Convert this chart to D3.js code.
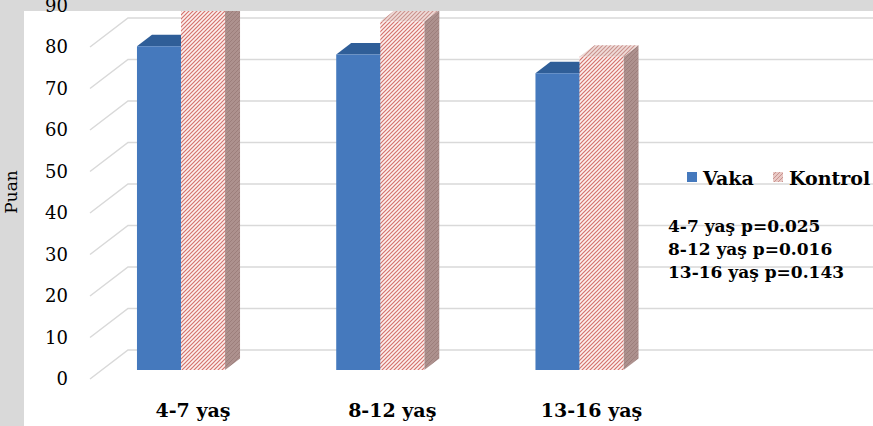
<!DOCTYPE html>
<html>
<head>
<meta charset="utf-8">
<script src="https://cdn.jsdelivr.net/npm/d3@7"></script>
<style>
  body { margin: 0; background: #fff; }
  svg { display: block; }
</style>
</head>
<body>
<div id="chart"></div>
<script>
var categories = ['4-7 yaş', '8-12 yaş', '13-16 yaş'];
var seriesNames = ['Vaka', 'Kontrol'];
var vaka = [78, 76, 71.5];
var kontrol = [89, 84, 75.5];
var yTicks = [0, 10, 20, 30, 40, 50, 60, 70, 80, 90];
var notes = ['4-7 yaş p=0.025', '8-12 yaş p=0.016', '13-16 yaş p=0.143'];

var width = 873, height = 426;
var plotLeft = 24, plotTop = 11;
// oblique 3d offsets
var back = { dx: 38, dy: -29 };
var barPlane = { dx: 0, dy: -9 };
var depth = { dx: 15, dy: -11.5 };

var svg = d3.select('#chart').append('svg')
  .attr('width', width)
  .attr('height', height);

var defs = svg.append('defs');

function hatch(id, bg, line, w) {
  var p = defs.append('pattern')
    .attr('id', id)
    .attr('patternUnits', 'userSpaceOnUse')
    .attr('width', 4).attr('height', 4);
  p.append('rect').attr('width', 4).attr('height', 4).attr('fill', bg);
  p.append('path')
    .attr('d', 'M-1,1 L1,-1 M0,4 L4,0 M3,5 L5,3')
    .attr('stroke', line).attr('stroke-width', w);
}
hatch('kFront', '#fdf1ef', '#d4736d', 1.2);
hatch('kTop', '#f0dcd9', '#c9918c', 1.1);
hatch('kSide', '#ad918e', '#9c7e7b', 1);
hatch('kLegend', '#e9c9c5', '#c99490', 1);

defs.append('clipPath').attr('id', 'plotClip')
  .append('rect')
  .attr('x', plotLeft).attr('y', plotTop)
  .attr('width', width - plotLeft).attr('height', height - plotTop);

// background
svg.append('rect').attr('width', width).attr('height', height).attr('fill', '#d9d9d9');
svg.append('rect')
  .attr('x', plotLeft).attr('y', plotTop)
  .attr('width', width - plotLeft).attr('height', height - plotTop)
  .attr('fill', '#ffffff');

var y = d3.scaleLinear().domain([0, 90]).range([379, 5.5]);

var x0 = d3.scaleBand()
  .domain(categories)
  .range([24, 736.5])
  .paddingInner(0.558)
  .paddingOuter(0.567);

var x1 = d3.scaleBand()
  .domain(seriesNames)
  .range([0, x0.bandwidth()]);

var plot = svg.append('g').attr('clip-path', 'url(#plotClip)');

// back wall gridlines + floor diagonals
var grid = plot.append('g')
  .attr('stroke', '#d9d9d9')
  .attr('stroke-width', 1.5)
  .attr('fill', 'none');

grid.selectAll('path')
  .data(yTicks)
  .join('path')
  .attr('d', d => 'M90,' + y(d) + ' L' + (90 + back.dx) + ',' + (y(d) + back.dy) + ' L' + width + ',' + (y(d) + back.dy));

// bars
var rows = categories.map((c, i) => ({ cat: c, values: [vaka[i], kontrol[i]] }));

function barShapes(s, v, cat) {
  var xl = x0(cat) + x1(s) + barPlane.dx;
  var xr = xl + x1.bandwidth();
  var yt = y(v) + barPlane.dy;
  var yb = y(0) + barPlane.dy;
  return {
    front: [[xl, yt], [xr, yt], [xr, yb], [xl, yb]],
    top: [[xl, yt], [xr, yt], [xr + depth.dx, yt + depth.dy], [xl + depth.dx, yt + depth.dy]],
    side: [[xr, yt], [xr + depth.dx, yt + depth.dy], [xr + depth.dx, yb + depth.dy], [xr, yb]]
  };
}

var fills = {
  Vaka: { front: '#4579bd', top: '#2f5e98', side: '#2c5a93' },
  Kontrol: { front: 'url(#kFront)', top: 'url(#kTop)', side: 'url(#kSide)' }
};

var line = d3.line();
rows.forEach(r => {
  seriesNames.forEach((s, j) => {
    var sh = barShapes(s, r.values[j], r.cat);
    var g = plot.append('g');
    g.append('path').attr('d', line(sh.side) + 'Z').attr('fill', fills[s].side);
    g.append('path').attr('d', line(sh.top) + 'Z').attr('fill', fills[s].top);
    g.append('path').attr('d', line(sh.front) + 'Z').attr('fill', fills[s].front);
  });
});

// y axis labels
var yAxis = svg.append('g')
  .attr('transform', 'translate(72,0)')
  .call(d3.axisLeft(y).tickValues(yTicks).tickSize(0).tickPadding(4));
yAxis.select('.domain').remove();
yAxis.selectAll('text')
  .attr('font-family', 'DejaVu Serif')
  .attr('font-size', '18px')
  .attr('fill', '#000');

svg.append('text')
  .attr('transform', 'translate(17,192) rotate(-90)')
  .attr('text-anchor', 'middle')
  .attr('font-family', 'DejaVu Serif')
  .attr('font-size', '17px')
  .attr('fill', '#000')
  .text('Puan');

// category labels
svg.append('g')
  .selectAll('text')
  .data(categories)
  .join('text')
  .attr('x', d => x0(d) + x0.bandwidth() / 2 + 12)
  .attr('y', 417)
  .attr('text-anchor', 'middle')
  .attr('font-family', 'DejaVu Serif')
  .attr('font-weight', 'bold')
  .attr('font-size', '19px')
  .attr('fill', '#000')
  .text(d => d);

// legend
var legend = svg.append('g').attr('font-family', 'DejaVu Serif').attr('font-weight', 'bold').attr('font-size', '19px');
var legX = [687, 773];
seriesNames.forEach((s, i) => {
  legend.append('rect')
    .attr('x', legX[i]).attr('y', 172)
    .attr('width', 10).attr('height', 10)
    .attr('fill', i === 0 ? '#4579bd' : 'url(#kLegend)');
  legend.append('text')
    .attr('x', legX[i] + 16).attr('y', 185)
    .attr('fill', '#000')
    .text(s);
});

// p-value notes
svg.append('g')
  .selectAll('text')
  .data(notes)
  .join('text')
  .attr('x', 668)
  .attr('y', (d, i) => 232 + i * 23)
  .attr('font-family', 'DejaVu Serif')
  .attr('font-weight', 'bold')
  .attr('font-size', '17px')
  .attr('fill', '#000')
  .text(d => d);
</script>
</body>
</html>
